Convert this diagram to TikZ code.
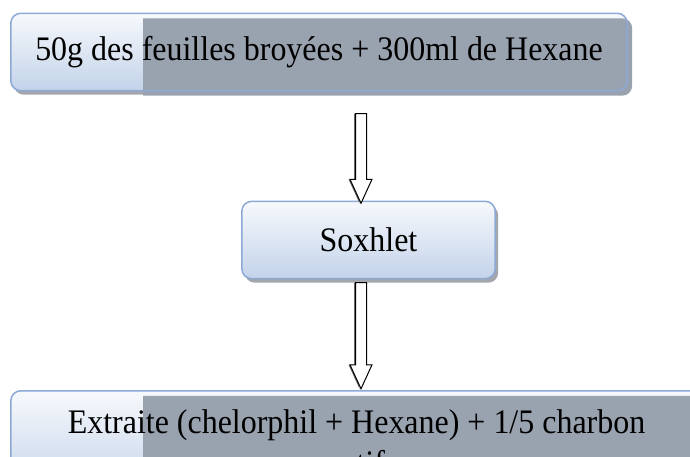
\documentclass[tikz,border=0pt]{standalone}
\usepackage{fontspec}
\setmainfont[FakeStretch=0.93]{Liberation Serif}
\usetikzlibrary{calc, positioning, backgrounds}

\definecolor{boxline}{HTML}{8DA9D6}
\definecolor{boxtop}{HTML}{F7F9FC}
\definecolor{boxbottom}{HTML}{C3D3EA}
\definecolor{overlaygray}{HTML}{99A2AF}
\definecolor{shadowgray}{HTML}{A3A7AD}

\tikzset{
  stage/.style={rectangle, inner sep=0pt, align=center, font=\fontsize{34.5}{41.5}\selectfont},
  stagefill/.style={rounded corners=10bp, top color=boxtop, bottom color=boxbottom},
  stageline/.style={rounded corners=10bp, draw=boxline, line width=1.5bp},
  stageshadow/.style={rounded corners=10bp, fill=shadowgray},
  arrowbody/.style={fill=white, draw=black, line width=1bp, line join=miter},
}

% hollow block arrow from #1 (tail) down to #2 (tip)
\newcommand{\hollowarrow}[2]{%
  \fill[black!60] let \p1=(#1), \p2=(#2) in
    (\x1-7bp,\y1) -- (\x1-4bp,\y1) -- (\x1-4bp,\y2+24bp) -- (\x2-1.5bp,\y2)
    -- (\x1-12.5bp,\y2+24bp) -- (\x1-7bp,\y2+24bp) -- cycle;
  \draw[arrowbody] let \p1=(#1), \p2=(#2) in
    (\x1-5.5bp,\y1) -- (\x1+5.5bp,\y1) -- (\x1+5.5bp,\y2+24bp) -- (\x1+11bp,\y2+24bp)
    -- (\x2,\y2) -- (\x1-11bp,\y2+24bp) -- (\x1-5.5bp,\y2+24bp) -- cycle;}

\begin{document}
\begin{tikzpicture}[x=1bp, y=1bp]
\useasboundingbox (0,0) rectangle (690,457);
\clip (0,0) rectangle (690,457);

% the three steps
\node[stage, minimum width=616bp, minimum height=77bp] (feed) at (319,405)
  {50g des feuilles broyées + 300ml de Hexane};
\node[stage, minimum width=253bp, minimum height=77bp] (soxhlet) at (368.5,217)
  {Soxhlet};
\node[stage, minimum width=691bp, minimum height=102bp] (extract) at (356.5,15)
  {Extraite (chelorphil + Hexane) + 1/5 charbon\\ actif};

% boxes behind the text
\begin{pgfonlayer}{background}
  \foreach \n in {feed,soxhlet,extract}
    \fill[stageshadow] ([shift={(3bp,-4bp)}]\n.south west) rectangle ([shift={(3bp,-4bp)}]\n.north east);
  \foreach \n in {feed,soxhlet,extract}
    \shade[stagefill] (\n.south west) rectangle (\n.north east);
  \begin{scope}
    \clip (143,-50) rectangle (720,457);
    \foreach \n in {feed,extract}
      \fill[overlaygray, rounded corners=10bp] ([yshift=-5bp]\n.north west) rectangle ([shift={(5bp,-5bp)}]\n.south east);
  \end{scope}
  \foreach \n in {feed,soxhlet,extract}
    \draw[stageline] (\n.south west) rectangle (\n.north east);
\end{pgfonlayer}

% arrows
\coordinate (a1tip) at ([xshift=-7.5bp, yshift=-2bp]soxhlet.north);
\coordinate (a1tail) at ([yshift=-23bp]a1tip |- feed.south);
\coordinate (a2tip) at ([yshift=2bp]a1tip |- extract.north);
\coordinate (a2tail) at ([yshift=-4bp]a1tip |- soxhlet.south);

\hollowarrow{a1tail}{a1tip}
\hollowarrow{a2tail}{a2tip}

\end{tikzpicture}
\end{document}
